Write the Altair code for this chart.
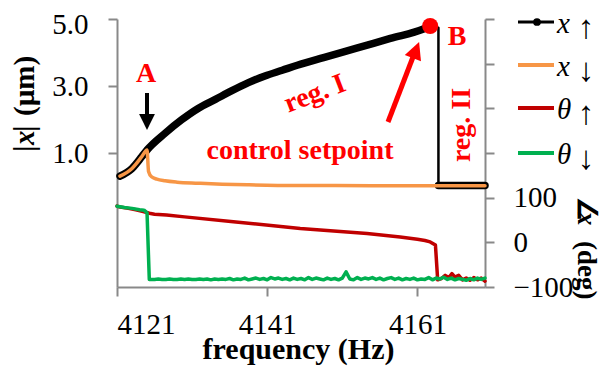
import altair as alt
import pandas as pd

FONT = "Liberation Serif"

# ---------------- data ----------------
# |x| sweeping up (black)
up_freq = [4121.4, 4123.0, 4124.3, 4125.0, 4127.4, 4129.6, 4131.8, 4134.1, 4136.3,
           4138.5, 4140.7, 4143.0, 4145.0, 4148.5, 4152.9, 4157.4, 4161.8, 4162.7]
up_amp = [0.31, 0.54, 0.89, 1.09, 1.59, 1.99, 2.33, 2.60, 2.86,
          3.10, 3.30, 3.47, 3.62, 3.85, 4.13, 4.42, 4.70, 4.79]
jump_freq = [4162.7, 4163.8, 4163.8]
jump_amp = [4.79, 4.74, 0.03]
low_freq = [4163.8, 4170.0]
low_amp = [0.03, 0.03]

# |x| sweeping down (orange)
down_freq = [4121.4, 4123.0, 4124.3, 4125.0, 4125.2, 4125.6, 4126.3, 4127.4, 4129.0,
             4131.8, 4135.0, 4138.5, 4144.7, 4150.0, 4160.0, 4170.0]
down_amp = [0.31, 0.54, 0.89, 1.09, 0.45, 0.29, 0.22, 0.17, 0.13,
            0.10, 0.07, 0.05, 0.03, 0.03, 0.02, 0.02]

# control setpoint B
b_freq = [4162.7]
b_amp = [4.79]

# phase sweeping up (dark red)
pu_freq = [4121.0, 4121.4, 4122.5, 4123.5, 4124.5, 4125.3, 4126.0, 4127.6, 4130.0,
           4136.5, 4145.4, 4154.3, 4158.7, 4161.0, 4162.0, 4162.7, 4163.4, 4163.7,
           4164.2, 4164.7, 4165.2, 4165.6, 4166.0, 4166.5, 4167.0, 4167.5, 4168.0,
           4168.5, 4169.0, 4169.5, 4170.0]
pu_deg = [81, 79, 76, 73, 69, 65, 63, 61, 57,
          46, 31, 20, 12, 7, 4, 1, -6, -84,
          -81, -74, -79, -70, -78, -74, -84, -80, -85,
          -79, -84, -80, -87]

# phase sweeping down (green)
pd_freq = [4121.0, 4122.0, 4123.0, 4124.0, 4124.6, 4125.0, 4125.3,
           4125.5, 4126.0, 4126.5, 4127.0, 4127.5, 4128.0, 4128.5, 4129.0, 4129.5, 4130.0,
           4130.5, 4131.0, 4131.5, 4132.0, 4132.5, 4133.0, 4133.5, 4134.0, 4134.5, 4135.0,
           4135.5, 4136.0, 4136.5, 4137.0, 4137.5, 4138.0, 4138.5, 4139.0, 4139.5, 4140.0,
           4140.5, 4141.0, 4141.5, 4142.0, 4142.5, 4143.0, 4143.5, 4144.0, 4144.5, 4145.0,
           4145.5, 4146.0, 4146.5, 4147.0, 4147.5, 4148.0, 4148.5, 4149.0, 4149.5, 4150.0,
           4150.5, 4151.0, 4151.5, 4152.0, 4152.5, 4153.0, 4153.5, 4154.0, 4154.5, 4155.0,
           4155.5, 4156.0, 4156.5, 4157.0, 4157.5, 4158.0, 4158.5, 4159.0, 4159.5, 4160.0,
           4160.5, 4161.0, 4161.5, 4162.0, 4162.5, 4163.0, 4163.5, 4164.0, 4164.5, 4165.0,
           4165.5, 4166.0, 4166.5, 4167.0, 4167.5, 4168.0, 4168.5, 4169.0, 4169.5, 4170.0]
pd_deg = [81, 78, 76, 73, 72, 66, -83,
          -83, -83, -82, -83, -83, -82, -83, -83, -82, -83,
          -82, -83, -83, -82, -83, -82, -84, -82, -83, -82,
          -83, -81, -84, -82, -83, -80, -84, -82, -80, -83,
          -81, -84, -79, -82, -80, -83, -81, -84, -80, -83,
          -81, -84, -79, -83, -80, -82, -84, -80, -83, -81,
          -84, -80, -66, -82, -84, -79, -83, -80, -82, -79,
          -83, -80, -84, -81, -79, -83, -80, -84, -81, -83,
          -80, -84, -82, -83, -79, -84, -80, -82, -78, -83,
          -80, -84, -81, -83, -85, -81, -84, -80, -83, -80]

x_ticks = [4121, 4141, 4161]
amp_ticks = [1, 3, 5]
deg_ticks = [-100, 0, 100, 200, 300, 400, 500]

# ---------------- scales / axes ----------------
BLACK, ORANGE, DRED, GREEN, RED = "#000000", "#F79646", "#C00000", "#00B050", "#FF0000"
AXC = "#898989"

xsc = alt.Scale(domain=[4121, 4170], nice=False, zero=False)
ysc_amp = alt.Scale(domain=[-3, 5], nice=False, zero=False)
ysc_deg = alt.Scale(domain=[-100, 500], nice=False, zero=False)

xaxis = alt.Axis(values=x_ticks, format="d", title="frequency (Hz)", grid=False,
                 tickSize=9, labelPadding=14, titleX=181, titleY=71,
                 titleBaseline="alphabetic", titleAlign="center",
                 titleFont=FONT, titleFontSize=30, titleFontWeight="bold", titleColor="black")
amp_axis = alt.Axis(values=amp_ticks, format=".1f", title=None, grid=False, orient="left",
                    tickSize=9, labelPadding=20, labelFlush=True, labelFlushOffset=9)
deg_axis = alt.Axis(values=deg_ticks, format="d", title=None, grid=False, orient="right",
                    tickSize=9, labelPadding=19, labelFlush=False,
                    labelExpr="datum.value <= 100 ? datum.label : ''")


def X():
    return alt.X("f:Q", scale=xsc, axis=xaxis)


def amp_line(freq, amp, color, width, interp="monotone"):
    df = pd.DataFrame({"f": freq, "v": amp})
    return alt.Chart(df).mark_line(color=color, strokeWidth=width, strokeCap="round",
                                   strokeJoin="round", interpolate=interp).encode(
        x=X(), y=alt.Y("v:Q", scale=ysc_amp, axis=amp_axis))


def deg_line(freq, deg, color, width):
    df = pd.DataFrame({"f": freq, "v": deg})
    return alt.Chart(df).mark_line(color=color, strokeWidth=width, strokeCap="round",
                                   strokeJoin="round").encode(
        x=X(), y=alt.Y("v:Q", scale=ysc_deg, axis=deg_axis))


ann = pd.DataFrame({"k": [0]})


def txt(text, x, y, size=28, color=RED, angle=0, align="center", baseline="alphabetic",
        style="normal", weight="bold"):
    return alt.Chart(ann).mark_text(text=text, font=FONT, fontSize=size, fontWeight=weight,
                                    fontStyle=style, color=color, angle=angle, align=align,
                                    baseline=baseline).encode(x=alt.value(x), y=alt.value(y))


def seg(x1, y1, x2, y2, color, width):
    return alt.Chart(ann).mark_rule(color=color, strokeWidth=width, strokeCap="butt").encode(
        x=alt.value(x1), y=alt.value(y1), x2=alt.value(x2), y2=alt.value(y2))


def head(x, y, size, angle, color, shape):
    return alt.Chart(ann).mark_point(shape=shape, filled=True, size=size, angle=angle,
                                     color=color, opacity=1, strokeWidth=0).encode(
        x=alt.value(x), y=alt.value(y))


# ---------------- amplitude layers ----------------
black_up = amp_line(up_freq, up_amp, BLACK, 7.5)
black_jump = amp_line(jump_freq, jump_amp, BLACK, 2.5, "linear")
black_low = amp_line(low_freq, low_amp, BLACK, 7.5, "linear")
orange_dn = amp_line(down_freq, down_amp, ORANGE, 3.5)
b_dot = alt.Chart(pd.DataFrame({"f": b_freq, "v": b_amp})).mark_point(
    filled=True, color=RED, size=260, opacity=1).encode(
    x=X(), y=alt.Y("v:Q", scale=ysc_amp, axis=amp_axis))

amp_layer = alt.layer(black_up, black_jump, black_low, orange_dn, b_dot)

# ---------------- phase layers ----------------
red_up = deg_line(pu_freq, pu_deg, DRED, 3.5)
green_dn = deg_line(pd_freq, pd_deg, GREEN, 3.5)
deg_layer = alt.layer(red_up, green_dn)

# ---------------- annotations ----------------
TRI_DOWN = "M-1,-1L1,-1L0,1Z"
TRI_UP = "M0,-1L1,1L-1,1Z"
annots = [
    txt("A", 29, 63),
    seg(30, 74, 30, 97, BLACK, 4),
    head(30, 103, 250, 0, BLACK, TRI_DOWN),
    txt("B", 340, 26),
    seg(271, 103, 296, 38, RED, 5),
    head(299, 31, 300, 21, RED, TRI_UP),
    txt("control setpoint", 183, 140),
    txt("reg. I", 198, 75, angle=339, baseline="middle"),
    txt("reg. II", 345, 106, angle=270, baseline="middle"),
    # left axis title  |x| (µm)
    txt("|", -83, 133, size=29, color=BLACK, angle=270, align="left"),
    txt("x", -83, 126, size=29, color=BLACK, angle=270, align="left", style="italic"),
    txt("|", -83, 113, size=29, color=BLACK, angle=270, align="left"),
    txt("(µm)", -83, 97, size=29, color=BLACK, angle=270, align="left"),
    # right axis title  ∠x (deg)
    txt("∠", 461, 178, size=27, color=BLACK, angle=90, align="left"),
    txt("x", 461, 193, size=27, color=BLACK, angle=90, align="left", style="italic"),
    txt("(deg)", 461, 222, size=27, color=BLACK, angle=90, align="left"),
]

# legend (drawn by hand to the right of the plot)
leg_rows = [3, 46, 89, 134]
leg_cols = [BLACK, ORANGE, DRED, GREEN]
leg_sym = ["x", "x", "θ", "θ"]
leg_arrow = ["↑", "↓", "↑", "↓"]
legend = []
for yy, cc, ss, aa in zip(leg_rows, leg_cols, leg_sym, leg_arrow):
    legend.append(seg(401, yy, 437, yy, cc, 3 if cc == BLACK else 4))
    legend.append(txt(ss, 440, yy + 11, size=29, color=BLACK, align="left",
                      style="italic", weight="normal"))
    legend.append(txt(aa, 469, yy + 16, size=33, color=BLACK, weight="normal"))
legend.append(head(420, 3, 60, 0, BLACK, "circle"))

ann_layer = alt.layer(*annots, *legend)

chart = alt.layer(amp_layer, deg_layer, ann_layer).resolve_scale(y="independent").properties(
    width=368, height=268,
    autosize=alt.AutoSizeParams(type="none"),
    padding={"left": 109, "top": 11, "right": 116, "bottom": 81},
).configure_view(stroke=None).configure_axis(
    domainColor=AXC, domainWidth=2, tickColor=AXC, tickWidth=2,
    labelFont=FONT, labelFontSize=29, labelColor="black",
).configure_text(font=FONT)

chart.save("out.html", embed_options={"renderer": "svg", "actions": False})
